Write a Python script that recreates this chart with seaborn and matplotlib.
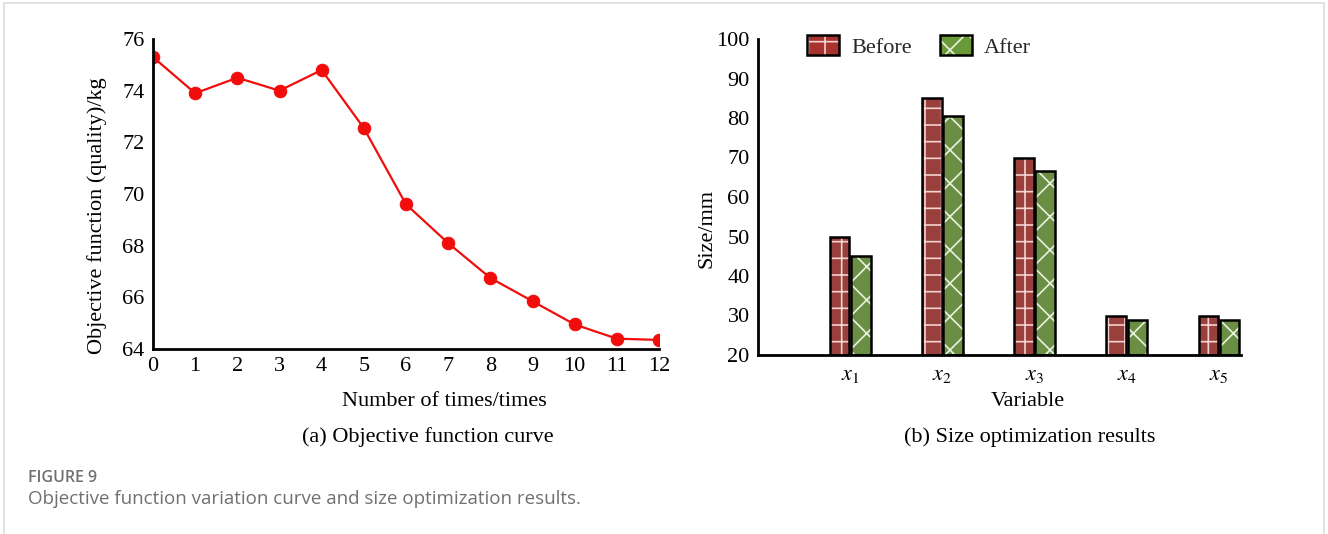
import numpy as np
import pandas as pd
import matplotlib
matplotlib.use("Agg")
import matplotlib.pyplot as plt
import seaborn as sns
from matplotlib.patches import Rectangle, Patch
from matplotlib.legend_handler import HandlerTuple
from matplotlib.ticker import FixedLocator

# ---------------- data ----------------
iterations = [0, 1, 2, 3, 4, 5, 6, 7, 8, 9, 10, 11, 12]
objective_kg = [75.3, 73.9, 74.5, 74.0, 74.8, 72.55, 69.6, 68.1, 66.75, 65.85, 64.95, 64.4, 64.35]

variables = ["$x_1$", "$x_2$", "$x_3$", "$x_4$", "$x_5$"]
size_before = [50, 85, 70, 30, 30]
size_after = [45, 80.5, 66.5, 28.8, 28.8]
series_names = ["Before", "After"]

# ---------------- style ----------------
sns.set_theme(style="white")
plt.rcParams["font.family"] = ["Liberation Serif", "DejaVu Serif"]
plt.rcParams["mathtext.fontset"] = "stix"
plt.rcParams["hatch.linewidth"] = 1.2

W, H = 1328, 534
fig = plt.figure(figsize=(W / 100, H / 100), dpi=100)
fig.patch.set_facecolor("white")

def fx(px):
    return px / W

def fy(py):
    return 1 - py / H

FS = 16
RED_LINE = "#f20d0d"
RED_BAR = "#a8322d"
GREEN_BAR = "#6a9a38"

# ---------------- left: objective curve ----------------
axL = fig.add_axes([fx(153), fy(349), fx(659) - fx(153), fy(39) - fy(349)])
dfL = pd.DataFrame({"it": iterations, "obj": objective_kg})
sns.lineplot(data=dfL, x="it", y="obj", ax=axL, color=RED_LINE, lw=1.6,
             marker="o", markersize=9, markeredgecolor=RED_LINE)
axL.set_xlim(0, 12)
axL.set_ylim(64, 76)
axL.set_xticks(iterations)
axL.set_yticks([64, 66, 68, 70, 72, 74, 76])
axL.yaxis.set_minor_locator(FixedLocator([65]))
axL.set_xlabel("Number of times/times", fontsize=FS)
axL.set_ylabel("Objective function (quality)/kg", fontsize=FS)
axL.xaxis.set_label_coords((444 - 153) / 506, (349 - 401) / 310)
axL.xaxis.label.set_va("center")
axL.yaxis.set_label_coords((97 - 153) / 506, (349 - 216) / 310)
axL.yaxis.label.set_va("center")

# ---------------- right: bars ----------------
axR = fig.add_axes([fx(758), fy(355), fx(1241) - fx(758), fy(39) - fy(355)])
dfR = pd.DataFrame({
    "var": variables * 2,
    "state": [series_names[0]] * len(variables) + [series_names[1]] * len(variables),
    "size": size_before + size_after,
})
sns.barplot(data=dfR, x="var", y="size", hue="state", order=variables,
            hue_order=series_names, palette=[RED_BAR, GREEN_BAR],
            width=0.46, gap=0.08, ax=axR, legend=False)
hatch_cols = {0: ("#f6d2d0", "+"), 1: ("#e9f2dc", "x")}
for i, cont in enumerate(axR.containers):
    hc, hp = hatch_cols[i]
    for p in cont:
        p.set_hatch(hp)
        p.set_edgecolor(hc)
        p.set_linewidth(0)
        y0 = max(p.get_y(), 20)
        axR.add_patch(Rectangle((p.get_x(), y0), p.get_width(), p.get_y() + p.get_height() - y0,
                                fill=False, edgecolor="black", lw=1.8, zorder=p.get_zorder() + 0.1))
axR.set_xlim(-1, 4.24)
axR.set_ylim(20, 100)
axR.set_yticks(range(20, 101, 10))
axR.set_xlabel("Variable", fontsize=FS)
axR.set_ylabel("Size/mm", fontsize=FS)
axR.xaxis.set_label_coords((1028 - 758) / 483, (355 - 401) / 316)
axR.xaxis.label.set_va("center")
axR.yaxis.set_label_coords((707 - 758) / 483, (355 - 228) / 316)
axR.yaxis.label.set_va("center")

handles = []
for col, (hc, hp) in zip([RED_BAR, GREEN_BAR], hatch_cols.values()):
    pf = Patch(facecolor=col, edgecolor=hc, hatch=hp, linewidth=0)
    pe = Patch(facecolor="none", edgecolor="black", linewidth=1.8)
    handles.append((pf, pe))
axR.legend(handles, series_names, handler_map={tuple: HandlerTuple(ndivide=1)},
           loc="upper left", bbox_to_anchor=((798 - 758) / 483, 1.04), frameon=False,
           ncol=2, fontsize=FS, handlelength=1.45, handleheight=1.0,
           handletextpad=0.55, columnspacing=1.25, borderaxespad=0)

# ---------------- common axis styling ----------------
for ax in (axL, axR):
    for s in ("top", "right"):
        ax.spines[s].set_visible(False)
    for s in ("left", "bottom"):
        ax.spines[s].set_color("black")
        ax.spines[s].set_linewidth(2)
    ax.tick_params(axis="both", which="both", direction="in", length=6, width=1.6,
                   colors="black", labelsize=FS, pad=6)
    ax.set_facecolor("white")
    ax.xaxis.label.set_color("black")
    ax.yaxis.label.set_color("black")
axR.tick_params(axis="x", length=0, pad=8)

# ---------------- captions ----------------
fig.text(fx(428), fy(437), "(a) Objective function curve", ha="center", va="center", fontsize=FS, color="black")
fig.text(fx(1030), fy(437), "(b) Size optimization results", ha="center", va="center", fontsize=FS, color="black")
fig.text(fx(28), fy(478), "FIGURE 9", ha="left", va="center", fontsize=11.5, color="#707070",
         family=["Open Sans", "DejaVu Sans"], fontweight="semibold")
fig.text(fx(28), fy(499), "Objective function variation curve and size optimization results.",
         ha="left", va="center", fontsize=13.5, color="#707070", family=["Open Sans", "DejaVu Sans"])

fig.add_artist(Rectangle((fx(4), fy(560)), fx(1324) - fx(4), fy(3) - fy(560), transform=fig.transFigure,
                         fill=False, edgecolor="#dcdcdc", lw=1.2))

fig.savefig("out.png", dpi=100, facecolor="white")
